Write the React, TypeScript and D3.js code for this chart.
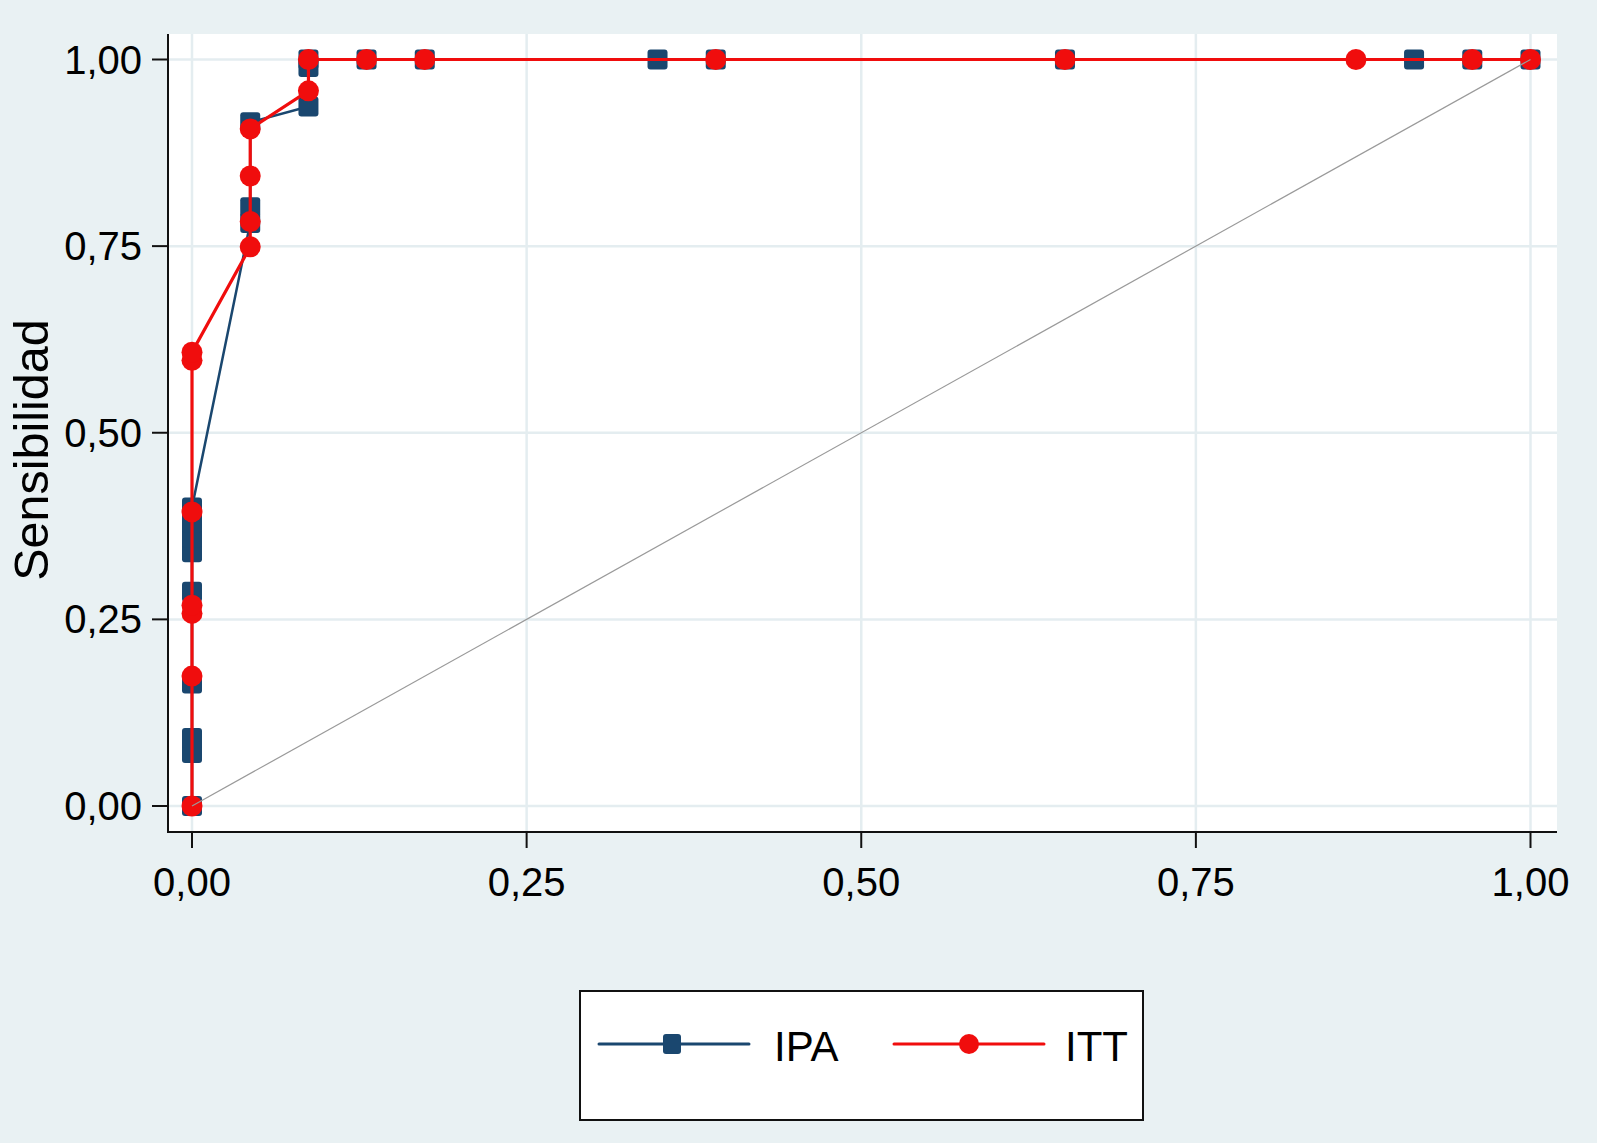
import React from "react";
import * as d3 from "d3";

// ---- data (1 - specificity, sensitivity) ----
const ipaX = [0, 0, 0, 0, 0, 0, 0, 0, 0, 0.0435, 0.0435, 0.0435, 0.087, 0.087, 0.087, 0.1304, 0.1739, 0.3478, 0.3913, 0.6522, 0.913, 0.9565, 1];
const ipaY = [0, 0.071, 0.091, 0.164, 0.287, 0.34, 0.36, 0.38, 0.4, 0.781, 0.802, 0.916, 0.937, 0.99, 1, 1, 1, 1, 1, 1, 1, 1, 1];
const ittX = [0, 0, 0, 0, 0, 0, 0, 0.0435, 0.0435, 0.0435, 0.0435, 0.087, 0.087, 0.1304, 0.1739, 0.3913, 0.6522, 0.8696, 0.9565, 1];
const ittY = [0, 0.174, 0.258, 0.269, 0.394, 0.597, 0.608, 0.749, 0.783, 0.844, 0.907, 0.958, 1, 1, 1, 1, 1, 1, 1, 1];
const xTicks = [0, 0.25, 0.5, 0.75, 1];
const yTicks = [0, 0.25, 0.5, 0.75, 1];
const tickLabels = ["0,00", "0,25", "0,50", "0,75", "1,00"];
const yTitle = "Sensibilidad";
const seriesNames = ["IPA", "ITT"];

const W = 1597;
const H = 1143;
const FONT = "'Liberation Sans', Arial, Helvetica, sans-serif";
const BG = "#e9f1f3";
const GRID = "#e4edf0";
const NAVY = "#1a476f";
const RED = "#f00d0d";

export default function App() {
  const plot = { left: 168, right: 1557, top: 34, bottom: 832 };
  const x = d3.scaleLinear().domain([0, 1]).range([192, 1530.5]);
  const y = d3.scaleLinear().domain([0, 1]).range([806, 59.5]);

  const ipa = ipaX.map((v, i) => [v, ipaY[i]] as [number, number]);
  const itt = ittX.map((v, i) => [v, ittY[i]] as [number, number]);
  const line = d3
    .line<[number, number]>()
    .x((d) => x(d[0]))
    .y((d) => y(d[1]));

  const sq = 20;
  const r = 10.5;

  return (
    <svg
      width={W}
      height={H}
      style={{ position: "absolute", left: 0, top: 0, display: "block" }}
      fontFamily={FONT}
    >
      <rect x={0} y={0} width={W} height={H} fill={BG} />
      <rect x={plot.left} y={plot.top} width={plot.right - plot.left} height={plot.bottom - plot.top} fill="#ffffff" />
      {/* grid */}
      {yTicks.map((t) => (
        <line key={"gy" + t} x1={plot.left} x2={plot.right} y1={y(t)} y2={y(t)} stroke={GRID} strokeWidth={2.5} />
      ))}
      {xTicks.map((t) => (
        <line key={"gx" + t} x1={x(t)} x2={x(t)} y1={plot.top} y2={plot.bottom} stroke={GRID} strokeWidth={2.5} />
      ))}
      {/* axes */}
      <line x1={plot.left} x2={plot.left} y1={plot.top} y2={plot.bottom + 1} stroke="#111" strokeWidth={2} />
      <line x1={plot.left - 1} x2={plot.right} y1={plot.bottom} y2={plot.bottom} stroke="#111" strokeWidth={2} />
      {yTicks.map((t, i) => (
        <g key={"ty" + t}>
          <line x1={152} x2={plot.left} y1={y(t)} y2={y(t)} stroke="#111" strokeWidth={2} />
          <text x={142} y={y(t)} dy="0.35em" textAnchor="end" fontSize={40} fill="#000">
            {tickLabels[i]}
          </text>
        </g>
      ))}
      {xTicks.map((t, i) => (
        <g key={"tx" + t}>
          <line x1={x(t)} x2={x(t)} y1={plot.bottom} y2={848} stroke="#111" strokeWidth={2} />
          <text x={x(t)} y={896} textAnchor="middle" fontSize={40} fill="#000">
            {tickLabels[i]}
          </text>
        </g>
      ))}
      <text
        transform={`translate(48,450) rotate(-90)`}
        textAnchor="middle"
        fontSize={48.5}
        fill="#000"
      >
        {yTitle}
      </text>

      {/* IPA */}
      <path d={line(ipa) || ""} fill="none" stroke={NAVY} strokeWidth={2.5} />
      {ipa.map((d, i) => (
        <rect key={"ipa" + i} x={x(d[0]) - sq / 2} y={y(d[1]) - sq / 2} width={sq} height={sq} rx={3} fill={NAVY} />
      ))}
      {/* ITT */}
      <path d={line(itt) || ""} fill="none" stroke={RED} strokeWidth={3.2} />
      {itt.map((d, i) => (
        <circle key={"itt" + i} cx={x(d[0])} cy={y(d[1])} r={r} fill={RED} />
      ))}
      {/* reference diagonal */}
      <line x1={x(0)} y1={y(0)} x2={x(1)} y2={y(1)} stroke="#9a9a9a" strokeWidth={1.2} />

      {/* legend */}
      <rect x={580} y={991} width={563} height={129} fill="#ffffff" stroke="#111" strokeWidth={2} />
      <line x1={599} x2={749} y1={1044} y2={1044} stroke={NAVY} strokeWidth={3} strokeLinecap="round" />
      <rect x={672 - 9} y={1044 - 10} width={18} height={20} rx={3} fill={NAVY} />
      <text x={774} y={1061} fontSize={42} fill="#000">
        {seriesNames[0]}
      </text>
      <line x1={894} x2={1044} y1={1044} y2={1044} stroke={RED} strokeWidth={3} strokeLinecap="round" />
      <circle cx={969} cy={1044} r={10} fill={RED} />
      <text x={1065} y={1061} fontSize={42} fill="#000">
        {seriesNames[1]}
      </text>
    </svg>
  );
}
